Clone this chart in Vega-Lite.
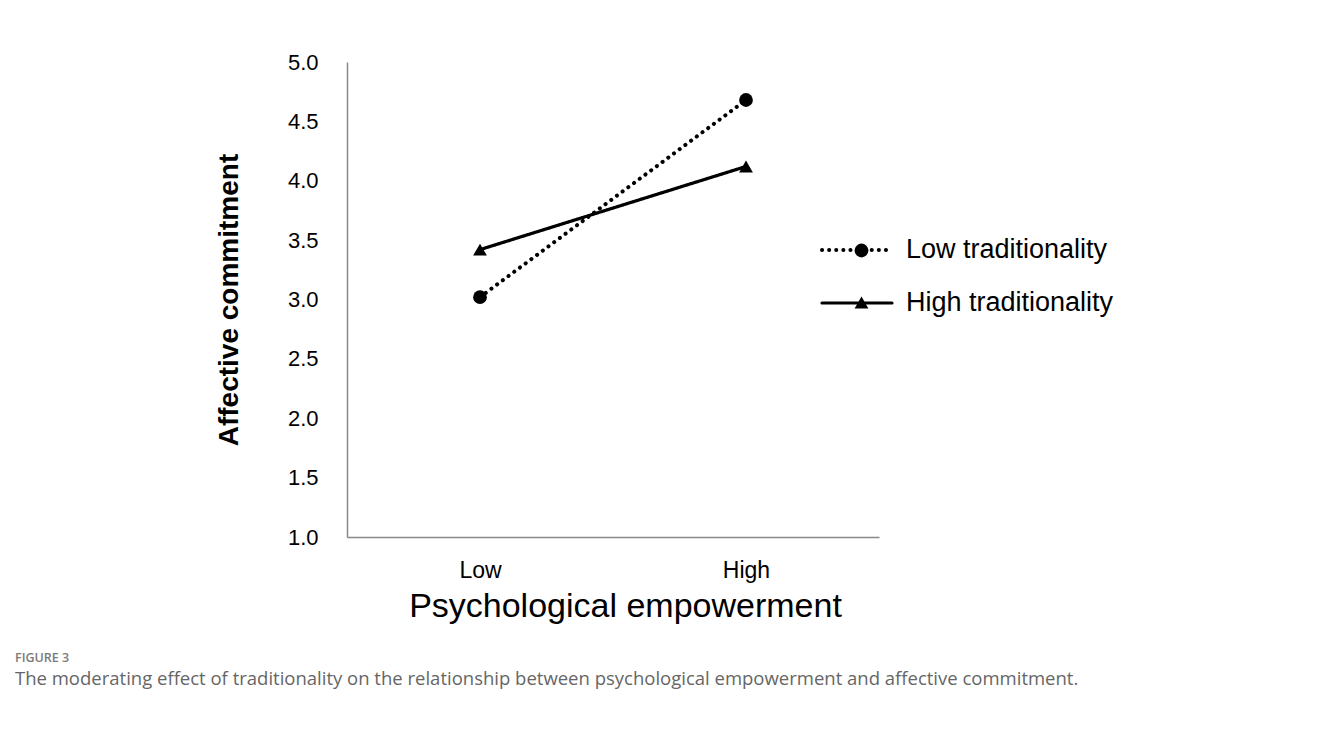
{
  "$schema": "https://vega.github.io/schema/vega-lite/v6.json",
  "width": 532,
  "height": 475,
  "autosize": {"type": "none"},
  "padding": {"left": 347, "top": 62, "right": 449, "bottom": 200},
  "background": "white",
  "config": {"font": "Liberation Sans", "view": {"stroke": null}},
  "title": {
    "text": "FIGURE 3",
    "subtitle": "The moderating effect of traditionality on the relationship between psychological empowerment and affective commitment.",
    "orient": "bottom",
    "anchor": "start",
    "frame": "group",
    "dx": -332,
    "offset": 29,
    "font": "Open Sans",
    "fontSize": 12.5,
    "fontWeight": 600,
    "color": "#7a7a7a",
    "subtitleFont": "Open Sans",
    "subtitleFontSize": 18.5,
    "subtitleColor": "#666666",
    "subtitlePadding": 5
  },
  "data": {
    "values": [
      {"pe": "Low", "group": "Low traditionality", "ac": 3.02},
      {"pe": "High", "group": "Low traditionality", "ac": 4.68},
      {"pe": "Low", "group": "High traditionality", "ac": 3.42},
      {"pe": "High", "group": "High traditionality", "ac": 4.12}
    ]
  },
  "encoding": {
    "x": {
      "field": "pe",
      "type": "ordinal",
      "sort": ["Low", "High"],
      "scale": {"type": "point", "padding": 0.5},
      "axis": {
        "title": "Psychological empowerment",
        "titleFontSize": 34,
        "titleFontWeight": "normal",
        "titleColor": "black",
        "titlePadding": 7,
        "titleX": 278,
        "titleAlign": "center",
        "labelAngle": 0,
        "labelFontSize": 23,
        "labelColor": "black",
        "labelPadding": 22,
        "ticks": false,
        "domainColor": "#888888",
        "domainWidth": 1.5
      }
    },
    "y": {
      "field": "ac",
      "type": "quantitative",
      "scale": {"domain": [1, 5]},
      "axis": {
        "title": "Affective commitment",
        "titleFontSize": 28,
        "titleFontWeight": "bold",
        "titleColor": "black",
        "titlePadding": 44,
        "values": [1, 1.5, 2, 2.5, 3, 3.5, 4, 4.5, 5],
        "format": ".1f",
        "labelFontSize": 22,
        "labelColor": "black",
        "labelPadding": 29,
        "ticks": false,
        "grid": false,
        "domainColor": "#888888",
        "domainWidth": 1.5
      }
    }
  },
  "layer": [
    {
      "mark": {"type": "line", "color": "black", "strokeCap": "round"},
      "encoding": {
        "strokeDash": {
          "field": "group",
          "type": "nominal",
          "scale": {"domain": ["Low traditionality", "High traditionality"], "range": [[0.1, 7], [1, 0]]},
          "legend": {
            "orient": "none",
            "legendX": 473,
            "legendY": 151,
            "title": null,
            "symbolType": "stroke",
            "symbolSize": 4900,
            "symbolStrokeWidth": 3.5,
            "symbolStrokeColor": "black",
            "labelFontSize": 27,
            "labelColor": "black",
            "labelOffset": 12,
            "labelLimit": 400,
            "rowPadding": 3,
            "encode": {"symbols": {"update": {"strokeCap": {"value": "round"}}}}
          }
        },
        "strokeWidth": {
          "field": "group",
          "type": "nominal",
          "scale": {"domain": ["Low traditionality", "High traditionality"], "range": [4, 3.2]},
          "legend": null
        }
      }
    },
    {
      "mark": {"type": "point", "filled": true, "color": "black", "opacity": 1, "size": 190},
      "encoding": {
        "shape": {
          "field": "group",
          "type": "nominal",
          "sort": ["Low traditionality", "High traditionality"],
          "scale": {"range": ["circle", "triangle-up"]},
          "legend": {
            "orient": "none",
            "legendX": 473,
            "legendY": 175,
            "title": null,
            "symbolSize": 190,
            "symbolFillColor": "black",
            "symbolStrokeColor": "black",
            "symbolOpacity": 1,
            "symbolOffset": 28,
            "labelExpr": "''",
            "labelFontSize": 27,
            "labelColor": "transparent",
            "labelOffset": 12,
            "rowPadding": 24
          }
        }
      }
    }
  ]
}
